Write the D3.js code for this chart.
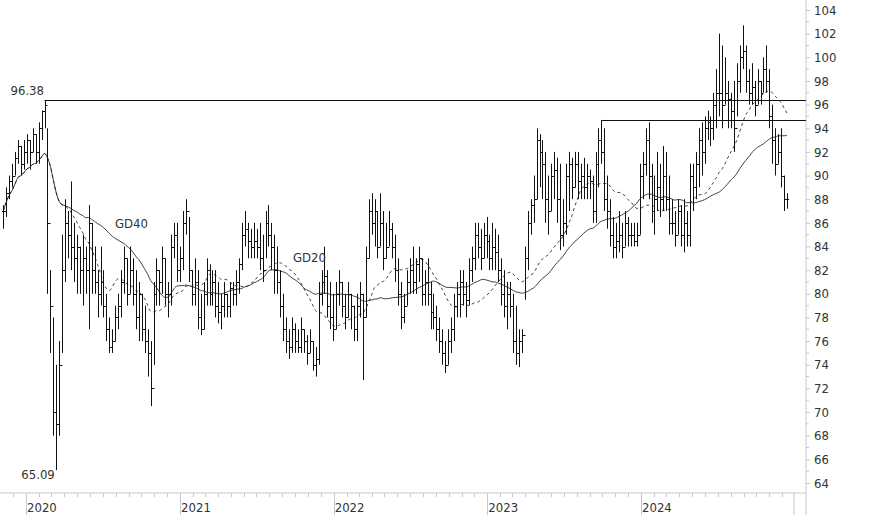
<!DOCTYPE html>
<html>
<head>
<meta charset="UTF-8">
<script src="https://d3js.org/d3.v7.min.js"></script>
<style>
  body { margin: 0; background: #fff; }
  text { font-family: "Liberation Sans Narrow", "DejaVu Sans Condensed", sans-serif; font-size: 13px; fill: #333; }
</style>
</head>
<body>
<div id="chart"></div>
<script>
// weekly bars "high low close" (open = previous close)
const bars = `
87.5 85.5 87|89 86.5 88.5|90 88 89.5|91 89 90|92 90 91.5|93 91 92.5|92.5 90 91|93 90.5 92|93.5 91 93|93 90.5 92|94 92 93.5|93.5 91 92|94.5 91 94|95.5 93 95.5|96.38 94 96|
94 80 86|82 75 79|78 68 70|74 65.09 69|76 68 74|85 75 82|88 81 86|87 83 85|89.5 82 84|86 81 83|85 80 84|84 80 82|85 79 83|84 80 82|87.5 77 86|86 80 82|84 80 81|82 78 80|
84 79 81|82 78 79|80 76 77|78 75 75.5|77 75 76|79 76 78|80 77 79|82 78 81|84 80 83|83 79 80|84 80 82|83 79 80|82 77 78|81 76 80|80 76 77|79 75 76|77 73 75|76 70.5 72|
81 74 80|83 79 82|82 79 81|84 80 83|83 79 80|81 78 80|85 79 84|86 83 85|86 81 82|84 81 83|87 82 86|88 85 87|86.5 81 82|82 79 80|83 79 81|82 77 78|80 76.5 77|81 77 80|
83 79 82|82.5 79 80|82 79 81|82 78 79|81 77.5 78.5|80 77 79|81 78 80|80 78 79|81 78 80.5|81 79 80|82 79 81|83 80 82.5|86 82 85|87 84 85.5|86 83 84.5|85.5 83 84|86 83 84.5|85.5 83 84|86 82 83|85 81 82|
87 83 86|87.5 84 85|86 82 84|85 80 82|84 80 81|82 78 79|80 76 77|78 75 76|77 74.5 75.5|78 75 77|77.5 75 76|77 75 75.5|78 75 77|77 75 76|76.5 74 75|77 75 76|76 73.5 74|75.5 73 74.5|
81 74 80|82 79 81|84 80 81.5|82 78 79|81 77 78|80 76 77|81 77 80|82 79 81|81 78 79|80 77 78|81 78 80|80 77 79|79 76 77|80 76 79|81 78 80|80 72.7 78|84 78 83|88 83 87|
88.5 85 86|88 84 87|87 83 84|88.5 84 86|87 82 83|86 83 84|87 84 85.5|86 83 84|85 81 82|83 79 80|81 77 78|80 77.5 79|82 79 81|83 80 82|84 80 81|83 80 82.5|84 81 83|83 79 80|
82 79 81|83 79 80|81 77 78.5|80 77 78|79 76 77|78 75 76|77 74 75|76 73.3 74|77 74 76|78 75 77|80 76 79|81 78 80|82 78 81|82 79 80|81 78 79.5|83 79 82|84 81 83|86 82 85|
86 83 84|85.5 82 83|86 83 85|86.5 83 84.5|85 82 83|86 82 84|85.5 82 83.5|85 81 82|83 79 80|82 78 79|81 77 80|81 78 79|80 75 76|79 74 75|77 73.8 76|77 75 76.5|84 79.5 83|87 82 86|88 85 87.5|90 86 88|
94 88 93|93.5 89 92|93 88 91|92 86 88|90 85 87|91 87 90|92 88 90.5|91.5 86 88|91 83.7 85|88 84 86|91 85 90|92 87 91|91.5 88 89|92 89 91|92 88 89.5|91 88 90|91.5 88 89|91 88 90|90.5 88 89.5|
90 86 87|92 86 91|94 89 93|94.7 91 92|94 87 88|90 85.5 87|88 84 85|86.5 83 84|86 83 84.5|87 83.5 85|86 83 84|87 84 86|86.5 84 85|86 84 85|86 84 84.5|86 84 85|91 85 90|92 88 91|
94 90 93|94.5 88 90|91 86 87|90 85 88|92 87 89|91 86.5 88|92.5 87 90|92 87 88|90 85 86|88 85 86|87 84 85|88 85 87|87.5 84 85|88 83.5 86|87 84 85|91 84 90|91 87 89|92 88 91|
94 89 93|94.5 90 92|95 91 94|95.5 93 94.5|95 92.5 94|97 93 96|99 94 97|102 95 97|101 94 96|100 96 97|98 94 96.5|97 94 95.5|98 92 94|99.5 95 98|101 97 100|102.7 99 100.5|101 97 98|99 96 97|
99.5 96 97.5|98 95 96|99 96 98|98 96 97|100 97 99|101 97 98|99 94 95|96 91 93|94 90 91|93.5 91 92|94 89 90|90 87 88|88.5 87.2 88`;

const highs = [], lows = [], closes = [];
bars.split("|").map(s => s.trim()).filter(s => s).forEach(s => {
  const [h, l, c] = s.split(/\s+/).map(Number);
  highs.push(h); lows.push(l); closes.push(c);
});
const yearTicks = [2020, 2021, 2022, 2023, 2024];
const yTicks = d3.range(64, 105, 2);
const resist1 = 96.38, resist2 = 94.7;

const W = 874, H = 515;
const svg = d3.select("#chart").append("svg").attr("width", W).attr("height", H);

const x = d3.scaleTime().domain([new Date(2020, 0, 1), new Date(2024, 0, 1)]).range([26, 641]);
const y = d3.scaleLinear().domain([64, 104]).range([483, 10]);
const start = new Date(2019, 10, 8);
const dates = closes.map((_, i) => d3.timeDay.offset(start, 7 * i));

// axes frame
svg.append("line").attr("x1", 806).attr("x2", 806).attr("y1", 0).attr("y2", H).attr("stroke", "#c8c8c8");
svg.append("line").attr("x1", 0).attr("x2", 806).attr("y1", 493).attr("y2", 493).attr("stroke", "#c8c8c8");
svg.append("line").attr("x1", 794).attr("x2", 794).attr("y1", 493).attr("y2", H).attr("stroke", "#c8c8c8");

const yAx = svg.append("g").attr("transform", "translate(806,0)")
  .call(d3.axisRight(y).tickValues(yTicks).tickSize(4).tickFormat(d3.format("d")));
yAx.select(".domain").remove();
yAx.selectAll("line").attr("stroke", "#c8c8c8");
yAx.selectAll("text").attr("x", 8);
// minor y ticks
svg.append("g").selectAll("line").data(d3.range(65, 104, 2)).join("line")
  .attr("x1", 806).attr("x2", 809).attr("y1", d => y(d)).attr("y2", d => y(d)).attr("stroke", "#c8c8c8");

// months
const months = d3.timeMonth.range(new Date(2019, 11, 1), new Date(2024, 11, 2));
svg.append("g").selectAll("line").data(months).join("line")
  .attr("x1", d => Math.round(x(d)) + 0.5).attr("x2", d => Math.round(x(d)) + 0.5)
  .attr("y1", 493).attr("y2", d => d.getMonth() === 0 ? H : 497).attr("stroke", "#c8c8c8");
svg.append("g").selectAll("text").data(yearTicks).join("text")
  .attr("x", d => x(new Date(d, 0, 1)) + 1).attr("y", 512).text(d => d);

// bars
const g = svg.append("g").attr("stroke", "#111").attr("stroke-width", 1);
closes.forEach((c, i) => {
  const cx = Math.round(x(dates[i])) + 0.5;
  const o = i ? closes[i - 1] : c;
  g.append("line").attr("x1", cx).attr("x2", cx).attr("y1", y(highs[i])).attr("y2", y(lows[i]));
  g.append("line").attr("x1", cx - 1.5).attr("x2", cx).attr("y1", Math.round(y(o)) + 0.5).attr("y2", Math.round(y(o)) + 0.5);
  g.append("line").attr("x1", cx).attr("x2", cx + 1.5).attr("y1", Math.round(y(c)) + 0.5).attr("y2", Math.round(y(c)) + 0.5);
});

// moving averages
function sma(n) {
  return closes.map((_, i) => d3.mean(closes.slice(Math.max(0, i - n + 1), i + 1)));
}
const line = d3.line().x((d, i) => x(dates[i])).y(d => y(d)).curve(d3.curveMonotoneX);
svg.append("path").datum(sma(40)).attr("d", line).attr("fill", "none").attr("stroke", "#111").attr("stroke-width", 0.8);
svg.append("path").datum(sma(20)).attr("d", line).attr("fill", "none").attr("stroke", "#111")
  .attr("stroke-width", 0.8).attr("stroke-dasharray", "3,3");

// resistance lines
const iPeak = highs.indexOf(resist1);
const iR2 = highs.indexOf(resist2);
svg.append("line").attr("x1", x(dates[iPeak])).attr("x2", 806).attr("y1", Math.round(y(resist1)) + 0.5).attr("y2", Math.round(y(resist1)) + 0.5).attr("stroke", "#111");
svg.append("line").attr("x1", x(dates[iR2])).attr("x2", 806).attr("y1", Math.round(y(resist2)) + 0.5).attr("y2", Math.round(y(resist2)) + 0.5).attr("stroke", "#111");

const iLow = lows.indexOf(d3.min(lows));
svg.append("text").attr("x", x(dates[iPeak]) - 34).attr("y", y(resist1) - 5).text(resist1.toFixed(2));
svg.append("text").attr("x", x(dates[iLow]) - 35).attr("y", y(lows[iLow]) + 9).text(lows[iLow].toFixed(2));
svg.append("text").attr("x", 115).attr("y", 228).text("GD40");
svg.append("text").attr("x", 293).attr("y", 262).text("GD20");
</script>
</body>
</html>
